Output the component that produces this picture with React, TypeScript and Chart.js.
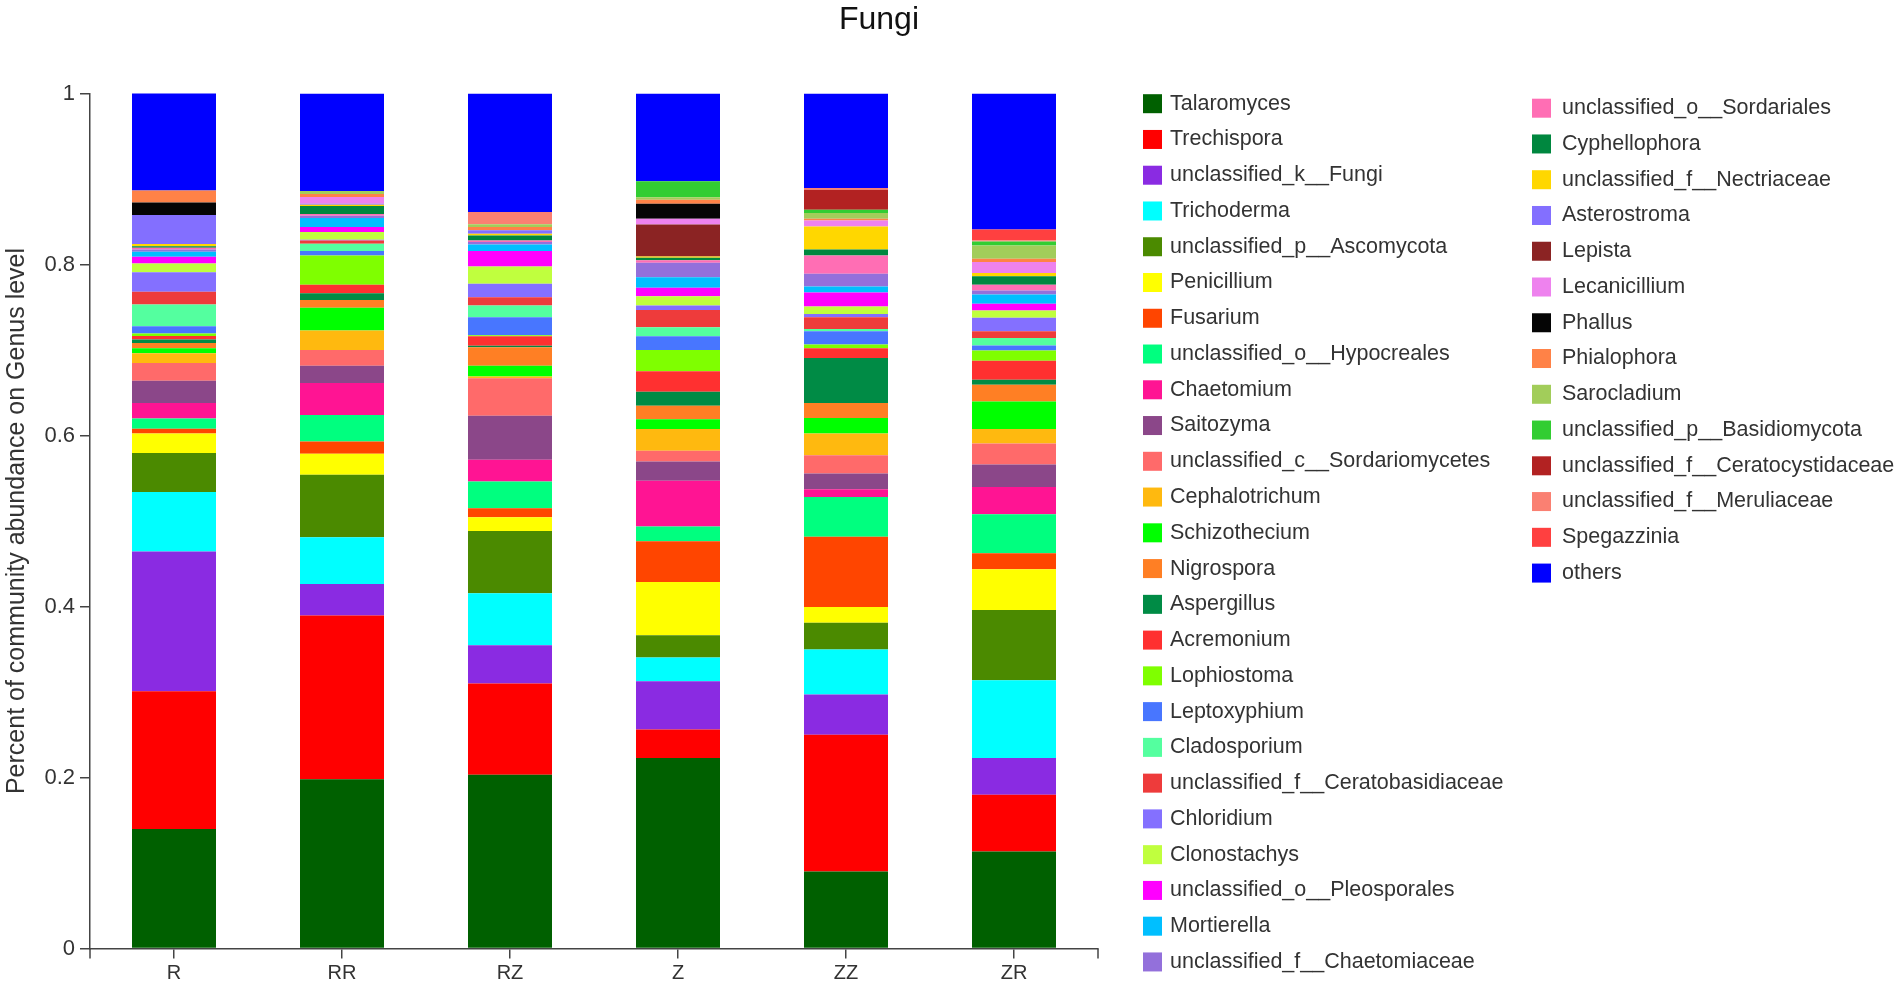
import React, { useEffect, useRef } from "react";
import { Chart, registerables } from "chart.js";

Chart.register(...registerables);

const TITLE = "Fungi";
const Y_TITLE = "Percent of community abundance on Genus level";
const CATEGORIES = ["R", "RR", "RZ", "Z", "ZZ", "ZR"];
const Y_TICKS = [0, 0.2, 0.4, 0.6, 0.8, 1];

const GENERA = [
  "Talaromyces", "Trechispora", "unclassified_k__Fungi", "Trichoderma",
  "unclassified_p__Ascomycota", "Penicillium", "Fusarium", "unclassified_o__Hypocreales",
  "Chaetomium", "Saitozyma", "unclassified_c__Sordariomycetes", "Cephalotrichum",
  "Schizothecium", "Nigrospora", "Aspergillus", "Acremonium", "Lophiostoma",
  "Leptoxyphium", "Cladosporium", "unclassified_f__Ceratobasidiaceae", "Chloridium",
  "Clonostachys", "unclassified_o__Pleosporales", "Mortierella", "unclassified_f__Chaetomiaceae",
  "unclassified_o__Sordariales", "Cyphellophora", "unclassified_f__Nectriaceae", "Asterostroma",
  "Lepista", "Lecanicillium", "Phallus", "Phialophora", "Sarocladium",
  "unclassified_p__Basidiomycota", "unclassified_f__Ceratocystidaceae", "unclassified_f__Meruliaceae",
  "Spegazzinia", "others",
];

const COLORS = [
  "#006000", "#FF0000", "#8A2BE2", "#00FFFF", "#4B8A00", "#FFFF00", "#FF4500", "#00FF7F",
  "#FF1493", "#8B4789", "#FF6A6A", "#FFB90F", "#00FF00", "#FF7F24", "#008B45", "#FF3030",
  "#7FFF00", "#4876FF", "#54FF9F", "#EE3B3B", "#8470FF", "#C0FF3E", "#FF00FF", "#00BFFF",
  "#9370DB", "#FF6EB4", "#00873F", "#FFD700", "#836FFF", "#8B2323", "#EE82EE", "#050505",
  "#FF8247", "#A2CD5A", "#32CD32", "#B22222", "#FA8072", "#FF4040", "#0000FF",
];

// values per sample, in GENERA order
const R = [0.1397, 0.1612, 0.1633, 0.0698, 0.0454, 0.023, 0.0055, 0.0121, 0.018, 0.0261, 0.0207, 0.0114, 0.0058, 0.0063, 0.004, 0.004, 0.003, 0.0086, 0.0254, 0.0148, 0.0227, 0.0105, 0.0078, 0.0059, 0.0025, 0.0022, 0.0015, 0.0028, 0.0339, 0, 0, 0.0145, 0.0141, 0, 0, 0, 0, 0, 0.114];
const RR = [0.198, 0.1916, 0.0367, 0.0547, 0.073, 0.0246, 0.0145, 0.0308, 0.0375, 0.0203, 0.0183, 0.0227, 0.0266, 0.0093, 0.0079, 0.0097, 0.0344, 0.0051, 0.0086, 0.0037, 0.001, 0.009, 0.0058, 0.0105, 0.0027, 0.002, 0.0094, 0.0016, 0.001, 0, 0.008, 0, 0.0035, 0.0035, 0, 0, 0, 0, 0.114];
const RZ = [0.2033, 0.1066, 0.0449, 0.0606, 0.073, 0.016, 0.0106, 0.0312, 0.0254, 0.0515, 0.0438, 0.0021, 0.0127, 0.0215, 0.0018, 0.0111, 0.0011, 0.0211, 0.0137, 0.0098, 0.0156, 0.0203, 0.018, 0.0078, 0.0027, 0.002, 0.0058, 0.002, 0.004, 0, 0, 0, 0.004, 0.003, 0, 0, 0.0144, 0, 0.1386];
const Z = [0.2228, 0.0332, 0.0566, 0.0278, 0.0261, 0.0621, 0.0477, 0.0172, 0.0535, 0.0226, 0.0125, 0.0254, 0.0114, 0.0159, 0.0164, 0.0239, 0.0249, 0.0161, 0.0105, 0.0203, 0.0051, 0.011, 0.0097, 0.0125, 0.0168, 0.003, 0.003, 0.0015, 0, 0.0374, 0.0067, 0.0175, 0.0046, 0.0031, 0.0185, 0, 0, 0, 0.1027];
const ZZ = [0.09, 0.1601, 0.0469, 0.0527, 0.0313, 0.0183, 0.0824, 0.0465, 0.009, 0.0184, 0.0214, 0.0254, 0.018, 0.0176, 0.0527, 0.0113, 0.0043, 0.0157, 0.0027, 0.0136, 0.0039, 0.0086, 0.0164, 0.007, 0.0149, 0.0215, 0.007, 0.0269, 0, 0, 0.0071, 0, 0.002, 0.0066, 0.0038, 0.0235, 0.002, 0, 0.1105];
const ZR = [0.1134, 0.0664, 0.043, 0.091, 0.082, 0.0477, 0.0187, 0.0457, 0.032, 0.0262, 0.0246, 0.0168, 0.0324, 0.0195, 0.0059, 0.0222, 0.0118, 0.0059, 0.0089, 0.0079, 0.0156, 0.0085, 0.0079, 0.0109, 0.0047, 0.0066, 0.0102, 0.0036, 0, 0, 0.0128, 0, 0.0039, 0.0156, 0.0047, 0, 0.001, 0.013, 0.159];

const SAMPLES = [R, RR, RZ, Z, ZZ, ZR];

const FONT = "'Liberation Sans', Arial, sans-serif";
const AXIS_COLOR = "#444";
const TEXT_COLOR = "#333";

const overlayPlugin = {
  id: "overlay",
  afterDraw(chart: any) {
    const ctx = chart.ctx;
    const { left, right, bottom } = chart.chartArea;
    ctx.save();
    // title
    ctx.font = `32px ${FONT}`;
    ctx.fillStyle = "#111";
    ctx.textAlign = "center";
    ctx.textBaseline = "middle";
    ctx.fillText(TITLE, 879, 20);
    // end ticks on x axis
    ctx.strokeStyle = AXIS_COLOR;
    ctx.lineWidth = 1.5;
    [left, right].forEach((x: number) => {
      ctx.beginPath();
      ctx.moveTo(x, bottom);
      ctx.lineTo(x, bottom + 10);
      ctx.stroke();
    });
    // legend
    ctx.font = `21.5px ${FONT}`;
    ctx.textAlign = "left";
    chart.data.datasets.forEach((ds: any, i: number) => {
      const col = i < 25 ? 0 : 1;
      const row = col === 0 ? i : i - 25;
      const bx = col === 0 ? 1143 : 1532;
      const tx = col === 0 ? 1170 : 1562;
      const y0 = col === 0 ? 103.7 : 108.2;
      const cy = y0 + row * 35.76;
      ctx.fillStyle = ds.backgroundColor;
      ctx.fillRect(bx, cy - 9.5, 19, 19);
      ctx.fillStyle = TEXT_COLOR;
      ctx.fillText(ds.label, tx, cy);
    });
    ctx.restore();
  },
};

export default function App() {
  const ref = useRef<HTMLCanvasElement | null>(null);
  useEffect(() => {
    if (!ref.current) return;
    const datasets = GENERA.map((name, i) => ({
      label: name,
      data: SAMPLES.map((s) => s[i]),
      backgroundColor: COLORS[i],
      borderWidth: 0,
    }));
    const chart = new Chart(ref.current, {
      type: "bar",
      data: { labels: CATEGORIES, datasets },
      options: {
        responsive: true,
        maintainAspectRatio: false,
        animation: false,
        layout: { padding: { top: 93.5, right: 804, bottom: 0, left: 0 } },
        datasets: { bar: { barPercentage: 0.5, categoryPercentage: 1 } },
        plugins: { legend: { display: false }, tooltip: { enabled: false }, title: { display: false } },
        scales: {
          x: {
            stacked: true,
            offset: true,
            grid: { offset: false, drawOnChartArea: false, drawTicks: true, tickLength: 10, color: AXIS_COLOR, lineWidth: 1.5 },
            border: { display: true, color: AXIS_COLOR, width: 1.5 },
            ticks: { color: TEXT_COLOR, font: { family: FONT, size: 20 }, padding: 3 },
            afterFit: (scale: any) => { scale.height = 37.5; },
          },
          y: {
            stacked: true,
            min: 0,
            max: 1,
            afterBuildTicks: (scale: any) => { scale.ticks = Y_TICKS.map((v) => ({ value: v })); },
            grid: { drawOnChartArea: false, drawTicks: true, tickLength: 10, color: AXIS_COLOR, lineWidth: 1.5 },
            border: { display: true, color: AXIS_COLOR, width: 1.5 },
            ticks: {
              color: TEXT_COLOR,
              font: { family: FONT, size: 22 },
              padding: 5,
              callback: (v: any) => String(Number(Number(v).toFixed(1))),
            },
            title: {
              display: true,
              text: Y_TITLE,
              color: TEXT_COLOR,
              font: { family: FONT, size: 25, lineHeight: 1 },
              padding: { top: 4.5, bottom: 0 },
            },
            afterFit: (scale: any) => { scale.width = 90; },
          },
        },
      },
      plugins: [overlayPlugin],
    } as any);
    return () => chart.destroy();
  }, []);
  return (
    <div style={{ position: "fixed", left: 0, top: 0, width: "100vw", height: "100vh", background: "#fff" }}>
      <canvas ref={ref} />
    </div>
  );
}
